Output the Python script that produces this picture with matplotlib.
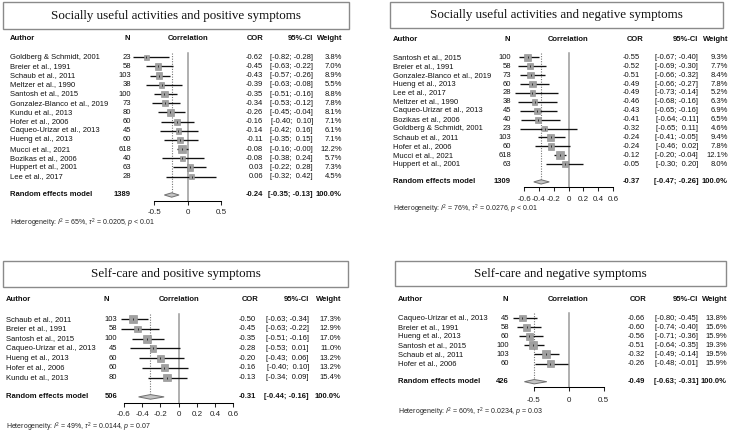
import matplotlib
matplotlib.use('Agg')
import matplotlib.pyplot as plt
import matplotlib.transforms as mtransforms
from matplotlib.patches import Rectangle, Polygon
import numpy as np

plt.rcParams['font.family'] = ['Liberation Sans', 'DejaVu Sans']
plt.rcParams['mathtext.fontset'] = 'custom'
plt.rcParams['mathtext.rm'] = 'Liberation Sans'
plt.rcParams['mathtext.it'] = 'Liberation Sans:italic'
plt.rcParams['mathtext.bf'] = 'Liberation Sans:bold'

# ---- panel 1: socially useful activities / positive symptoms
p1_title = 'Socially useful activities and positive symptoms'
p1_authors = ['Goldberg & Schmidt, 2001', 'Breier et al., 1991', 'Schaub et al., 2011',
              'Meltzer et al., 1990', 'Santosh et al., 2015', 'Gonzalez-Blanco et al., 2019',
              'Kundu et al., 2013', 'Hofer et al., 2006', 'Caqueo-Urizar et al., 2013',
              'Hueng et al., 2013', 'Mucci et al., 2021', 'Bozikas et al., 2006',
              'Huppert et al., 2001', 'Lee et al., 2017']
p1_n = [23, 58, 103, 38, 100, 73, 80, 60, 45, 60, 618, 40, 63, 28]
p1_cor = [-0.62, -0.45, -0.43, -0.39, -0.35, -0.34, -0.26, -0.16, -0.14, -0.11, -0.08, -0.08, 0.03, 0.06]
p1_lo = [-0.82, -0.63, -0.57, -0.63, -0.51, -0.53, -0.45, -0.40, -0.42, -0.35, -0.16, -0.38, -0.22, -0.32]
p1_hi = [-0.28, -0.22, -0.26, -0.08, -0.16, -0.12, -0.04, 0.10, 0.16, 0.15, -0.0, 0.24, 0.28, 0.42]
p1_weight = [3.8, 7.0, 8.9, 5.5, 8.8, 7.8, 8.1, 7.1, 6.1, 7.1, 12.2, 5.7, 7.3, 4.5]
p1_total = 1389
p1_re = [-0.24, -0.35, -0.13]
p1_het = ['65%', '0.0205', '< 0.01']
p1_ticks = [-0.5, 0, 0.5]

# ---- panel 2: socially useful activities / negative symptoms
p2_title = 'Socially useful activities and negative symptoms'
p2_authors = ['Santosh et al., 2015', 'Breier et al., 1991', 'Gonzalez-Blanco et al., 2019',
              'Hueng et al., 2013', 'Lee et al., 2017', 'Meltzer et al., 1990',
              'Caqueo-Urizar et al., 2013', 'Bozikas et al., 2006', 'Goldberg & Schmidt, 2001',
              'Schaub et al., 2011', 'Hofer et al., 2006', 'Mucci et al., 2021',
              'Huppert et al., 2001']
p2_n = [100, 58, 73, 60, 28, 38, 45, 40, 23, 103, 60, 618, 63]
p2_cor = [-0.55, -0.52, -0.51, -0.49, -0.49, -0.46, -0.43, -0.41, -0.32, -0.24, -0.24, -0.12, -0.05]
p2_lo = [-0.67, -0.69, -0.66, -0.66, -0.73, -0.68, -0.65, -0.64, -0.65, -0.41, -0.46, -0.20, -0.30]
p2_hi = [-0.40, -0.30, -0.32, -0.27, -0.14, -0.16, -0.16, -0.11, 0.11, -0.05, 0.02, -0.04, 0.20]
p2_weight = [9.3, 7.7, 8.4, 7.8, 5.2, 6.3, 6.9, 6.5, 4.6, 9.4, 7.8, 12.1, 8.0]
p2_total = 1309
p2_re = [-0.37, -0.47, -0.26]
p2_het = ['76%', '0.0276', '< 0.01']
p2_ticks = [-0.6, -0.4, -0.2, 0, 0.2, 0.4, 0.6]

# ---- panel 3: self-care / positive symptoms
p3_title = 'Self-care and positive symptoms'
p3_authors = ['Schaub et al., 2011', 'Breier et al., 1991', 'Santosh et al., 2015',
              'Caqueo-Urizar et al., 2013', 'Hueng et al., 2013', 'Hofer et al., 2006',
              'Kundu et al., 2013']
p3_n = [103, 58, 100, 45, 60, 60, 80]
p3_cor = [-0.50, -0.45, -0.35, -0.28, -0.20, -0.16, -0.13]
p3_lo = [-0.63, -0.63, -0.51, -0.53, -0.43, -0.40, -0.34]
p3_hi = [-0.34, -0.22, -0.16, 0.01, 0.06, 0.10, 0.09]
p3_weight = [17.3, 12.9, 17.0, 11.0, 13.2, 13.2, 15.4]
p3_total = 506
p3_re = [-0.31, -0.44, -0.16]
p3_het = ['49%', '0.0144', '= 0.07']
p3_ticks = [-0.6, -0.4, -0.2, 0, 0.2, 0.4, 0.6]

# ---- panel 4: self-care / negative symptoms
p4_title = 'Self-care and negative symptoms'
p4_authors = ['Caqueo-Urizar et al., 2013', 'Breier et al., 1991', 'Hueng et al., 2013',
              'Santosh et al., 2015', 'Schaub et al., 2011', 'Hofer et al., 2006']
p4_n = [45, 58, 60, 100, 103, 60]
p4_cor = [-0.66, -0.60, -0.56, -0.51, -0.32, -0.26]
p4_lo = [-0.80, -0.74, -0.71, -0.64, -0.49, -0.48]
p4_hi = [-0.45, -0.40, -0.36, -0.35, -0.14, -0.01]
p4_weight = [13.8, 15.6, 15.9, 19.3, 19.5, 15.9]
p4_total = 426
p4_re = [-0.49, -0.63, -0.31]
p4_het = ['60%', '0.0234', '= 0.03']
p4_ticks = [-0.5, 0, 0.5]

# pixel layout of each panel (zero line, px per unit, first row, row step, columns, title box)
lay1 = dict(zero=187.7, scale=66.7, row0=57.3, d=9.18, author=10, n_h=127, n=131,
            cor_h=255, cor=263, ci=313, w=342, box=(3, 2, 349, 29), tlab=13.0, het=4.1)
lay2 = dict(zero=568.5, scale=73.9, row0=57.3, d=8.9, author=393, n_h=507, n=511,
            cor_h=635, cor=640, ci=698, w=728, box=(390, 2, 723, 28), tlab=13.3, het=4.1)
lay3 = dict(zero=178.7, scale=91.2, row0=319.3, d=9.7, author=6, n_h=106, n=117,
            cor_h=250, cor=256, ci=309, w=341, box=(3, 261, 348, 287), tlab=12.7, het=4.1)
lay4 = dict(zero=568.5, scale=70.0, row0=318.0, d=9.1, author=398, n_h=505, n=509,
            cor_h=638, cor=645, ci=698, w=727, box=(395, 261, 726, 286), tlab=14.6, het=4.35)

W, H = 730, 434
FS = 5.5
fig = plt.figure(figsize=(W / 100, H / 100), dpi=100)
bg = fig.add_axes([0, 0, 1, 1])
bg.set_xlim(0, W)
bg.set_ylim(H, 0)
bg.axis('off')


def ci_text(lo, hi):
    return '[{:.2f};{}{:.2f}]'.format(lo, '  ' if hi >= 0 and str(hi)[0] != '-' else ' ', hi)


def draw_panel(title, authors, n, cor, lo, hi, weight, total, re, het, ticks, lay):
    k = len(authors)
    d = lay['d']
    axis_i = k + 1.6
    top_px = lay['row0'] - d
    bot_px = lay['row0'] + axis_i * d
    left_px = lay['zero'] - lay['scale']
    ax = fig.add_axes([left_px / W, 1 - bot_px / H, 2 * lay['scale'] / W, (bot_px - top_px) / H])
    ax.set_xlim(-1, 1)
    ax.set_ylim(axis_i, -1)
    ax.patch.set_alpha(0)
    for s in ['left', 'top', 'right']:
        ax.spines[s].set_visible(False)
    ax.spines['bottom'].set_bounds(ticks[0], ticks[-1])
    ax.spines['bottom'].set_linewidth(0.75)
    ax.set_yticks([])
    ax.set_xticks(ticks)
    ax.set_xticklabels(['0' if t == 0 else '{:g}'.format(t) for t in ticks])
    pad = (lay['tlab'] - 4 - 4.4) * 0.72
    ax.tick_params(axis='x', length=2.9, width=0.75, pad=pad, labelsize=5.8, colors='#222222')

    rows = np.arange(k)
    # reference line and summary line
    ax.plot([0, 0], [-0.5, axis_i], color='#9a9a9a', lw=1.1, zorder=1, clip_on=False)
    ax.plot([re[0], re[0]], [-0.5, k + 1 - 0.25], color='#777777', lw=0.8,
            linestyle=(0, (1, 1.3)), zorder=1, clip_on=False)
    # study CIs and squares
    ax.errorbar(cor, rows, xerr=[np.array(cor) - np.array(lo), np.array(hi) - np.array(cor)],
                fmt='none', ecolor='#111111', elinewidth=0.95, capsize=0, zorder=2, clip_on=False)
    side = 8.0 * np.sqrt(np.array(weight) / max(weight)) * 0.72
    ax.scatter(cor, rows, s=side ** 2, marker='s', color='#a0a0a0', edgecolors='#8a8a8a',
               linewidths=0.4, zorder=3, clip_on=False)
    ax.scatter(cor, rows, s=3, marker='|', color='#222222', linewidths=0.6, zorder=4,
               clip_on=False)
    # diamond
    h = 0.24
    yd = k + 1
    ax.add_patch(Polygon([(re[1], yd), (re[0], yd - h), (re[2], yd), (re[0], yd + h)],
                         closed=True, facecolor='#c4c4c4', edgecolor='#707070', lw=0.7,
                         zorder=3, clip_on=False))

    tr = mtransforms.blended_transform_factory(bg.transData, ax.transData)
    kw = dict(transform=tr, fontsize=FS, va='center', color='#111111')
    # header
    hy = -2
    ax.text(lay['author'], hy, 'Author', ha='left', fontweight='bold', **kw)
    ax.text(lay['n_h'], hy, 'N', ha='center', fontweight='bold', **kw)
    ax.text(lay['zero'], hy, 'Correlation', ha='center', fontweight='bold', **kw)
    ax.text(lay['cor_h'], hy, 'COR', ha='center', fontweight='bold', **kw)
    ax.text(lay['ci'], hy, '95%-CI', ha='right', fontweight='bold', **kw)
    ax.text(lay['w'], hy, 'Weight', ha='right', fontweight='bold', **kw)
    # study rows
    for i in range(k):
        ax.text(lay['author'], i, authors[i], ha='left', **kw)
        ax.text(lay['n'], i, str(n[i]), ha='right', **kw)
        ax.text(lay['cor'], i, '{:.2f}'.format(cor[i]), ha='right', **kw)
        ax.text(lay['ci'], i, ci_text(lo[i], hi[i]), ha='right', **kw)
        ax.text(lay['w'], i, '{:.1f}%'.format(weight[i]), ha='right', **kw)
    # pooled row
    ax.text(lay['author'], yd, 'Random effects model', ha='left', fontweight='bold', **kw)
    ax.text(lay['n'], yd, str(total), ha='right', fontweight='bold', **kw)
    ax.text(lay['cor'], yd, '{:.2f}'.format(re[0]), ha='right', fontweight='bold', **kw)
    ax.text(lay['ci'], yd, ci_text(re[1], re[2]), ha='right', fontweight='bold', **kw)
    ax.text(lay['w'], yd, '100.0%', ha='right', fontweight='bold', **kw)
    # heterogeneity
    het_txt = 'Heterogeneity: $I^2$ = {}, $\\tau^2$ = {}, $p$ {}'.format(het[0], het[1], het[2])
    ax.text(lay['author'], k + lay['het'], het_txt, transform=tr, fontsize=5.0, ha='left',
            va='center', color='#222222')

    # title box
    x0, y0, x1, y1 = lay['box']
    bg.add_patch(Rectangle((x0, y0), x1 - x0, y1 - y0, fill=False, edgecolor='#8a8a8a', lw=1.0))
    bg.text((x0 + x1) / 2, (y0 + y1) / 2, title, ha='center', va='center', fontsize=9.4,
            family='Liberation Serif', color='#111111')
    return ax


draw_panel(p1_title, p1_authors, p1_n, p1_cor, p1_lo, p1_hi, p1_weight, p1_total,
           p1_re, p1_het, p1_ticks, lay1)
draw_panel(p2_title, p2_authors, p2_n, p2_cor, p2_lo, p2_hi, p2_weight, p2_total,
           p2_re, p2_het, p2_ticks, lay2)
draw_panel(p3_title, p3_authors, p3_n, p3_cor, p3_lo, p3_hi, p3_weight, p3_total,
           p3_re, p3_het, p3_ticks, lay3)
draw_panel(p4_title, p4_authors, p4_n, p4_cor, p4_lo, p4_hi, p4_weight, p4_total,
           p4_re, p4_het, p4_ticks, lay4)

fig.savefig('out.png', dpi=100, facecolor='white')
